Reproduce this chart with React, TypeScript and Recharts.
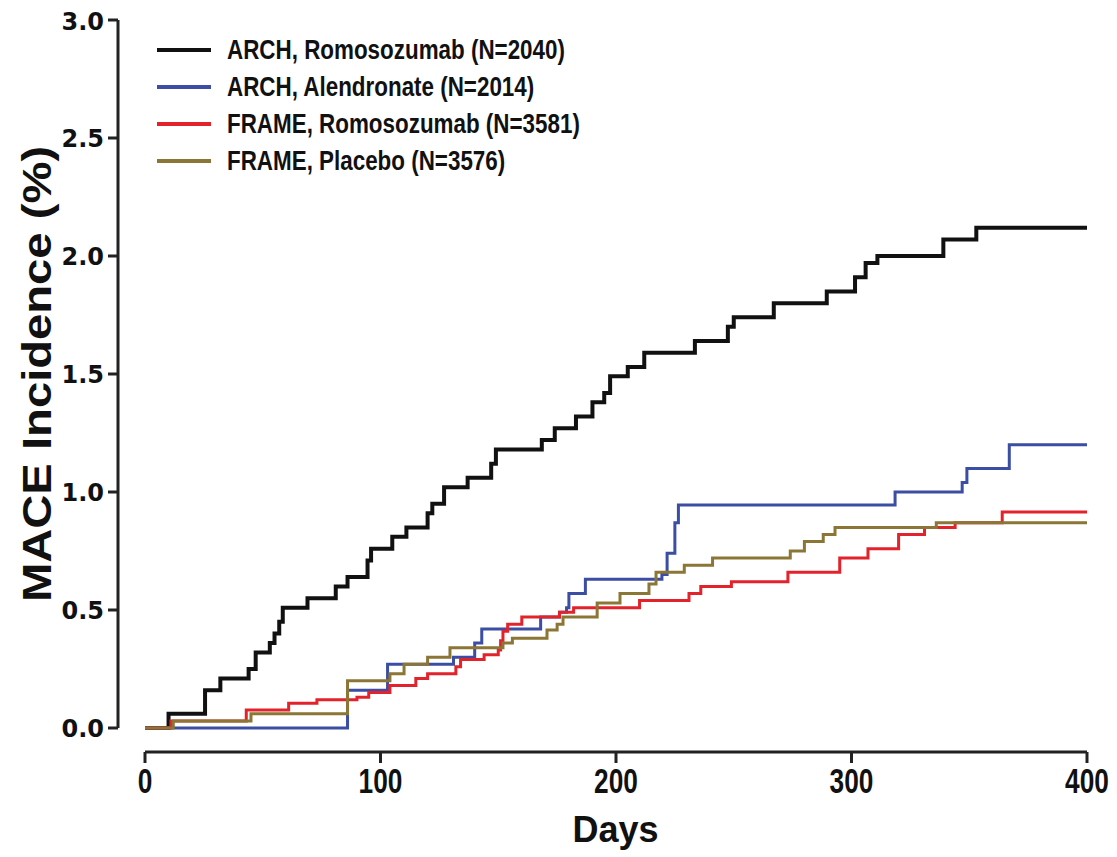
import React from 'react';
import { LineChart, Line, XAxis, YAxis, Legend } from 'recharts';

// Kaplan-Meier style cumulative MACE incidence
const archRomoDays = [0, 10, 25.5, 32, 44, 47, 53, 55, 57, 58.5, 69, 81, 86, 94.5, 96, 105, 111, 120, 122, 127, 137, 147, 149, 168.5, 174, 183, 190, 195, 197.5, 205, 212, 233.5, 247.5, 250, 267, 289.5, 301.5, 306, 311, 339, 353, 400];
const archRomoValues = [0, 0.06, 0.16, 0.21, 0.25, 0.32, 0.36, 0.4, 0.45, 0.51, 0.55, 0.6, 0.64, 0.71, 0.76, 0.81, 0.85, 0.91, 0.95, 1.02, 1.06, 1.12, 1.18, 1.22, 1.27, 1.32, 1.38, 1.42, 1.49, 1.53, 1.59, 1.64, 1.7, 1.74, 1.8, 1.85, 1.91, 1.97, 2.0, 2.07, 2.12, 2.12];

const archAlnDays = [0, 86, 103, 131, 140, 143, 168, 176, 179, 180, 187, 219.5, 221.7, 225, 226.5, 318.5, 347, 349, 367, 400];
const archAlnValues = [0, 0.16, 0.27, 0.3, 0.36, 0.42, 0.47, 0.49, 0.51, 0.57, 0.63, 0.65, 0.74, 0.87, 0.945, 1.0, 1.04, 1.1, 1.2, 1.2];

const frameRomoDays = [0, 11, 43, 61, 73, 90, 95, 104, 115, 120, 132, 134, 144, 150, 151, 152, 154, 160, 176, 182, 210, 231, 236, 249, 273, 295, 307, 320, 331, 344, 364, 400];
const frameRomoValues = [0, 0.03, 0.076, 0.105, 0.12, 0.13, 0.15, 0.18, 0.21, 0.23, 0.26, 0.29, 0.31, 0.33, 0.37, 0.41, 0.44, 0.47, 0.49, 0.51, 0.54, 0.57, 0.6, 0.62, 0.66, 0.72, 0.76, 0.82, 0.85, 0.87, 0.915, 0.915];

const framePboDays = [0, 12, 45, 86, 104, 110, 120, 129.5, 152, 156, 170.7, 175, 177.5, 192, 201.7, 214, 217, 229, 241, 274, 280, 288, 293, 336, 400];
const framePboValues = [0, 0.03, 0.06, 0.2, 0.23, 0.27, 0.3, 0.34, 0.36, 0.38, 0.415, 0.44, 0.47, 0.53, 0.57, 0.61, 0.66, 0.69, 0.72, 0.75, 0.79, 0.82, 0.85, 0.87, 0.87];

const seriesNames = ['ARCH, Romosozumab (N=2040)', 'ARCH, Alendronate (N=2014)', 'FRAME, Romosozumab (N=3581)', 'FRAME, Placebo (N=3576)'];
const seriesColors = ['#111111', '#3b4ea3', '#e3232b', '#8b7635'];

const dayTicks = [0, 100, 200, 300, 400];
const incidenceTicks = [0, 0.5, 1.0, 1.5, 2.0, 2.5, 3.0];

const toRows = (days: number[], values: number[]) => days.map((d, i) => ({ day: d, value: values[i] }));

const series = [
  toRows(archRomoDays, archRomoValues),
  toRows(archAlnDays, archAlnValues),
  toRows(frameRomoDays, frameRomoValues),
  toRows(framePboDays, framePboValues),
];

const FONT = "'Liberation Sans', Arial, sans-serif";
const WIDE = "'DejaVu Sans', 'Liberation Sans', Arial, sans-serif";

// legend keeps the series order of the figure (not sorted)
const renderLegend = () => (
  <div style={{ fontFamily: FONT }}>
    {seriesNames.map((name, i) => (
      <div key={name} style={{ display: 'flex', alignItems: 'center', height: 37 }}>
        <svg width={54} height={8} style={{ display: 'block' }}>
          <line x1={0} y1={4} x2={54} y2={4} stroke={seriesColors[i]} strokeWidth={4} />
        </svg>
        <span style={{ marginLeft: 16, fontSize: 28, fontWeight: 700, color: '#111', whiteSpace: 'nowrap', display: 'inline-block', transform: 'scaleX(0.8)', transformOrigin: 'left center' }}>{name}</span>
      </div>
    ))}
  </div>
);

const DayTick = (props: any) => {
  const { x, y, payload } = props;
  return (
    <text transform={`translate(${x},${y}) scale(0.75,1)`} textAnchor="middle" dy="0.71em" fontSize={35} fontWeight={700} fontFamily={FONT} fill="#111">
      {payload.value}
    </text>
  );
};

const YLabel = (props: any) => {
  const vb = props.viewBox || { x: 0, y: 0, width: 0, height: 0 };
  const cx = vb.x + 29;
  const cy = vb.y + vb.height / 2 - 12;
  return (
    <text transform={`translate(${cx},${cy}) rotate(-90) scale(1.18,1)`} textAnchor="middle" dominantBaseline="central" fontSize={40} fontWeight={700} fontFamily={FONT} fill="#111">
      MACE Incidence (%)
    </text>
  );
};

const App: React.FC = () => {
  return (
    <div style={{ width: 1109, height: 849, background: '#fff' }}>
      <LineChart width={1109} height={849} margin={{ top: 12, right: 30, left: 0, bottom: 15 }}>
        <XAxis
          type="number"
          dataKey="day"
          domain={[0, 400]}
          ticks={dayTicks}
          padding={{ left: 27, right: 0 }}
          height={90}
          tickSize={11}
          tickMargin={5}
          allowDataOverflow
          axisLine={{ stroke: '#222', strokeWidth: 3, strokeDasharray: '0 27 2000' }}
          tickLine={{ stroke: '#222', strokeWidth: 3 }}
          tick={<DayTick />}
          label={{ value: 'Days', position: 'insideBottom', offset: 0, dx: 13, style: { fontSize: 36, fontWeight: 700, fontFamily: FONT, fill: '#111' } }}
        />
        <YAxis
          type="number"
          domain={[0, 3]}
          ticks={incidenceTicks}
          padding={{ top: 0, bottom: 24 }}
          width={110}
          tickSize={10}
          tickMargin={4}
          tickFormatter={(v: number) => v.toFixed(1)}
          axisLine={{ stroke: '#222', strokeWidth: 3, strokeDasharray: '708 100' }}
          tickLine={{ stroke: '#222', strokeWidth: 3 }}
          tick={{ fill: '#111', fontSize: 24, fontWeight: 700, fontFamily: WIDE }}
          label={<YLabel />}
        />
        <Legend
          layout="vertical"
          align="center"
          verticalAlign="middle"
          content={renderLegend}
          wrapperStyle={{ top: 23, left: 149, width: 'auto', height: 'auto' }}
        />
        {series.map((rows, i) => (
          <Line
            key={seriesNames[i]}
            data={rows}
            dataKey="value"
            name={seriesNames[i]}
            type="stepAfter"
            stroke={seriesColors[i]}
            strokeWidth={i === 0 ? 4 : 3}
            dot={false}
            activeDot={false}
            isAnimationActive={false}
          />
        ))}
      </LineChart>
    </div>
  );
};

export default App;
